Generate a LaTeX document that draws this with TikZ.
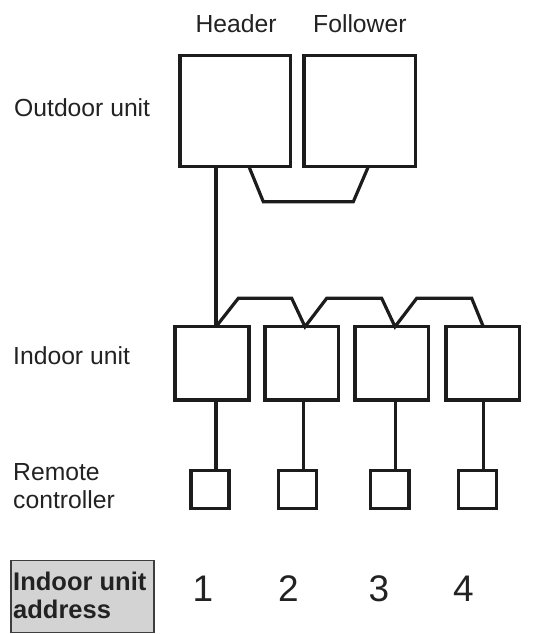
\documentclass[tikz,border=0pt]{standalone}
\usepackage{fontspec}
\setmainfont{Liberation Sans}
\definecolor{ink}{HTML}{1C1C1C}
\definecolor{txt}{HTML}{222222}
\definecolor{addrfill}{HTML}{D3D3D3}
\begin{document}
\begin{tikzpicture}[x=1pt,y=-1pt,
  unitbox/.style={draw=ink,line width=3.2pt,outer sep=0pt,inner sep=0pt,fill=white},
  wire/.style={draw=ink,line width=3.2pt,line join=miter},
  lbl/.style={anchor=base west,inner sep=0pt,text=txt,font=\fontsize{24.7}{28.3}\selectfont,align=left},
  num/.style={anchor=base,inner sep=0pt,text=txt,font=\fontsize{37}{40}\selectfont}]
\useasboundingbox (0,0) rectangle (537,634);
% outdoor units
\node[unitbox,minimum width=110.7pt,minimum height=111pt] (hd) at (235.35,111.2) {};
\node[unitbox,minimum width=111.7pt,minimum height=111pt] (fl) at (359.85,111.2) {};
% indoor units
\node[unitbox,minimum width=74pt,minimum height=73.3pt] (i1) at (212,363.35) {};
\node[unitbox,minimum width=73.3pt,minimum height=73.3pt] (i2) at (301.65,363.35) {};
\node[unitbox,minimum width=73.3pt,minimum height=73.3pt] (i3) at (391.65,363.35) {};
\node[unitbox,minimum width=73.5pt,minimum height=73.3pt] (i4) at (482.75,363.35) {};
% remote controllers
\node[unitbox,minimum width=38pt,minimum height=37.6pt] (r1) at (210,489.5) {};
\node[unitbox,minimum width=38.4pt,minimum height=37.6pt] (r2) at (297.5,489.5) {};
\node[unitbox,minimum width=38.3pt,minimum height=37.6pt] (r3) at (389.85,489.5) {};
\node[unitbox,minimum width=38pt,minimum height=37.6pt] (r4) at (477.7,489.5) {};
% header to indoor 1
\draw[wire] ([xshift=-19.35pt]hd.south) -- ([xshift=-19.35pt]hd.south |- i1.north);
% header-follower link
\draw[wire] ([xshift=13.65pt]hd.south) -- ++(14.3,35) -- ++(90,0) -- ([xshift=8.45pt]fl.south);
% indoor bus
\draw[wire] ([xshift=4pt]i1.north) -- ++(22.3,-28.4) -- ++(53.4,0) -- ([xshift=3.35pt]i2.north)
  -- ++(21.7,-28.4) -- ++(55,0) -- ([xshift=3.35pt]i3.north)
  -- ++(21.7,-28.4) -- ++(55,0) -- ([xshift=0.55pt]i4.north);
% indoor to remote
\draw[wire] ([xshift=4pt]i1.south) -- ([xshift=4pt]i1.south |- r1.north);
\draw[wire] ([xshift=1.85pt]i2.south) -- ([xshift=1.85pt]i2.south |- r2.north);
\draw[wire] ([xshift=3.85pt]i3.south) -- ([xshift=3.85pt]i3.south |- r3.north);
\draw[wire] ([xshift=0.55pt]i4.south) -- ([xshift=0.55pt]i4.south |- r4.north);
% labels
\node[lbl] (lh) at (195.3,32.3) {Header};
\node[lbl] (lf) at (313,32.3) {Follower};
\node[lbl] (lo) at (14,116.7) {Outdoor unit};
\node[lbl] (li) at (13,364) {Indoor unit};
\node[lbl] (lr1) at (13,480) {Remote};
\node[lbl] (lr2) at (13,508.3) {controller};
% address
\node[draw=ink!85,line width=1.2pt,fill=addrfill,minimum width=143pt,minimum height=71.6pt,inner sep=0pt] (ab) at (82.5,596.5) {};
\node[lbl,font=\bfseries\fontsize{25.5}{28}\selectfont] (at1) at (13,590) {Indoor unit};
\node[lbl,font=\bfseries\fontsize{25.5}{28}\selectfont] (at2) at (13,618.3) {address};
\node[num] (n1) at (203,601.7) {1};
\node[num] (n2) at (288.5,601.7) {2};
\node[num] (n3) at (378.8,601.7) {3};
\node[num] (n4) at (463.3,601.7) {4};
\end{tikzpicture}
\end{document}
